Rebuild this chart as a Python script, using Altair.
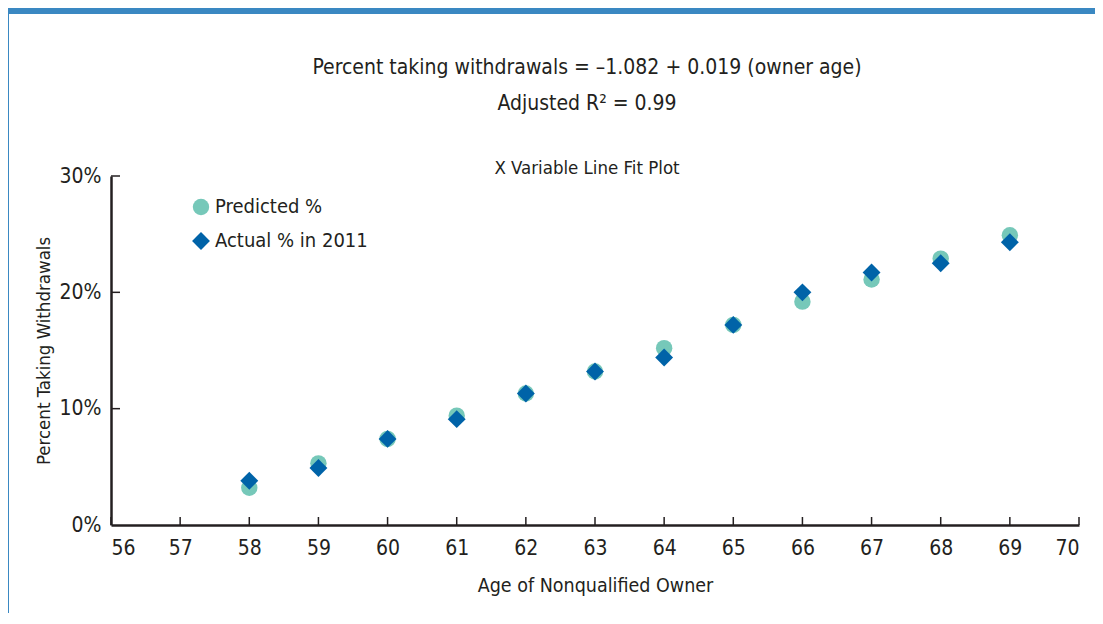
import altair as alt
import pandas as pd

ages = [58, 59, 60, 61, 62, 63, 64, 65, 66, 67, 68, 69]
predicted = [0.032, 0.053, 0.074, 0.094, 0.113, 0.132, 0.152, 0.172, 0.192, 0.211, 0.229, 0.249]
actual = [0.038, 0.049, 0.074, 0.091, 0.113, 0.132, 0.144, 0.172, 0.200, 0.217, 0.225, 0.243]
series_names = ["Predicted %", "Actual % in 2011"]
x_ticks = list(range(56, 71))
y_ticks = [0.0, 0.1, 0.2, 0.3]

title_lines = ["Percent taking withdrawals = \u20131.082 + 0.019 (owner age)", "Adjusted R\u00b2 = 0.99"]
subtitle = "X Variable Line Fit Plot"

FONT = "DejaVu Sans Condensed, sans-serif"
INK = "#231f20"
W, H = 968, 349

rows = []
for a, p in zip(ages, predicted):
    rows.append({"age": a, "pct": p, "series": series_names[0], "ord": 0})
for a, v in zip(ages, actual):
    rows.append({"age": a, "pct": v, "series": series_names[1], "ord": 1})
df = pd.DataFrame(rows)

xscale = alt.Scale(domain=[56, 70], nice=False, zero=False)
yscale = alt.Scale(domain=[0, 0.3], nice=False)

points = alt.Chart(df).mark_point(filled=True, opacity=1).encode(
    x=alt.X("age:Q", scale=xscale,
            axis=alt.Axis(title="Age of Nonqualified Owner", values=x_ticks, format="d",
                          ticks=False, grid=False, domainColor=INK, domainWidth=2.5,
                          labelFontSize=21, labelPadding=12, labelColor=INK,
                          titleFontSize=19.5, titleFontWeight="normal", titleColor=INK,
                          titlePadding=18, labelFont=FONT, titleFont=FONT)),
    y=alt.Y("pct:Q", scale=yscale,
            axis=alt.Axis(title="Percent Taking Withdrawals", values=y_ticks, format=".0%",
                          ticks=False, grid=False, domainColor=INK, domainWidth=2.5,
                          labelFontSize=21, labelPadding=10, labelColor=INK,
                          titleFontSize=18.5, titleFontWeight="normal", titleColor=INK,
                          titlePadding=6, labelFont=FONT, titleFont=FONT)),
    color=alt.Color("series:N",
                    scale=alt.Scale(domain=series_names, range=["#76c8b9", "#0063a8"]),
                    legend=alt.Legend(title=None, orient="none", legendX=80, legendY=21,
                                      labelFontSize=20, labelFont=FONT, labelColor=INK,
                                      labelLimit=400, symbolSize=280, rowPadding=14,
                                      labelOffset=4)),
    shape=alt.Shape("series:N",
                    scale=alt.Scale(domain=series_names, range=["circle", "diamond"]),
                    legend=None),
    size=alt.Size("series:N",
                  scale=alt.Scale(domain=series_names, range=[270, 320]),
                  legend=None),
    order=alt.Order("ord:Q"),
)

xt = pd.DataFrame({"v": x_ticks})
yt = pd.DataFrame({"v": y_ticks[1:]})
xtick_marks = alt.Chart(xt).mark_rule(color=INK, strokeWidth=1.5).encode(
    x=alt.X("v:Q", scale=xscale), y=alt.value(H), y2=alt.value(H - 8))
ytick_marks = alt.Chart(yt).mark_rule(color=INK, strokeWidth=1.5).encode(
    y=alt.Y("v:Q", scale=yscale), x=alt.value(0), x2=alt.value(9))

one = pd.DataFrame({"k": [0]})
topbar = alt.Chart(one).mark_rect(color="#3a88c2").encode(
    x=alt.value(-103), x2=alt.value(W + 16), y=alt.value(-168), y2=alt.value(-162))
leftline = alt.Chart(one).mark_rule(color="#3a88c2", strokeWidth=2).encode(
    x=alt.value(-103), y=alt.value(-168), y2=alt.value(H + 88))

CX = W / 2 - 8
t1 = alt.Chart(one).mark_text(font=FONT, fontSize=21, color=INK, baseline="middle", align="center").encode(
    x=alt.value(CX), y=alt.value(-108), text=alt.value(title_lines[0]))
t2 = alt.Chart(one).mark_text(font=FONT, fontSize=21, color=INK, baseline="middle", align="center").encode(
    x=alt.value(CX), y=alt.value(-72), text=alt.value(title_lines[1]))
t3 = alt.Chart(one).mark_text(font=FONT, fontSize=18.5, color=INK, baseline="middle", align="center").encode(
    x=alt.value(CX), y=alt.value(-8), text=alt.value(subtitle))

chart = alt.layer(topbar, leftline, t1, t2, t3, xtick_marks, ytick_marks, points).properties(
    width=W, height=H,
    autosize=alt.AutoSizeParams(type="none"),
    padding={"left": 103, "top": 168, "right": 16, "bottom": 88},
).configure(font=FONT).configure_view(strokeWidth=0, stroke="transparent")

chart.save("out.html", embed_options={"renderer": "svg", "actions": False})
